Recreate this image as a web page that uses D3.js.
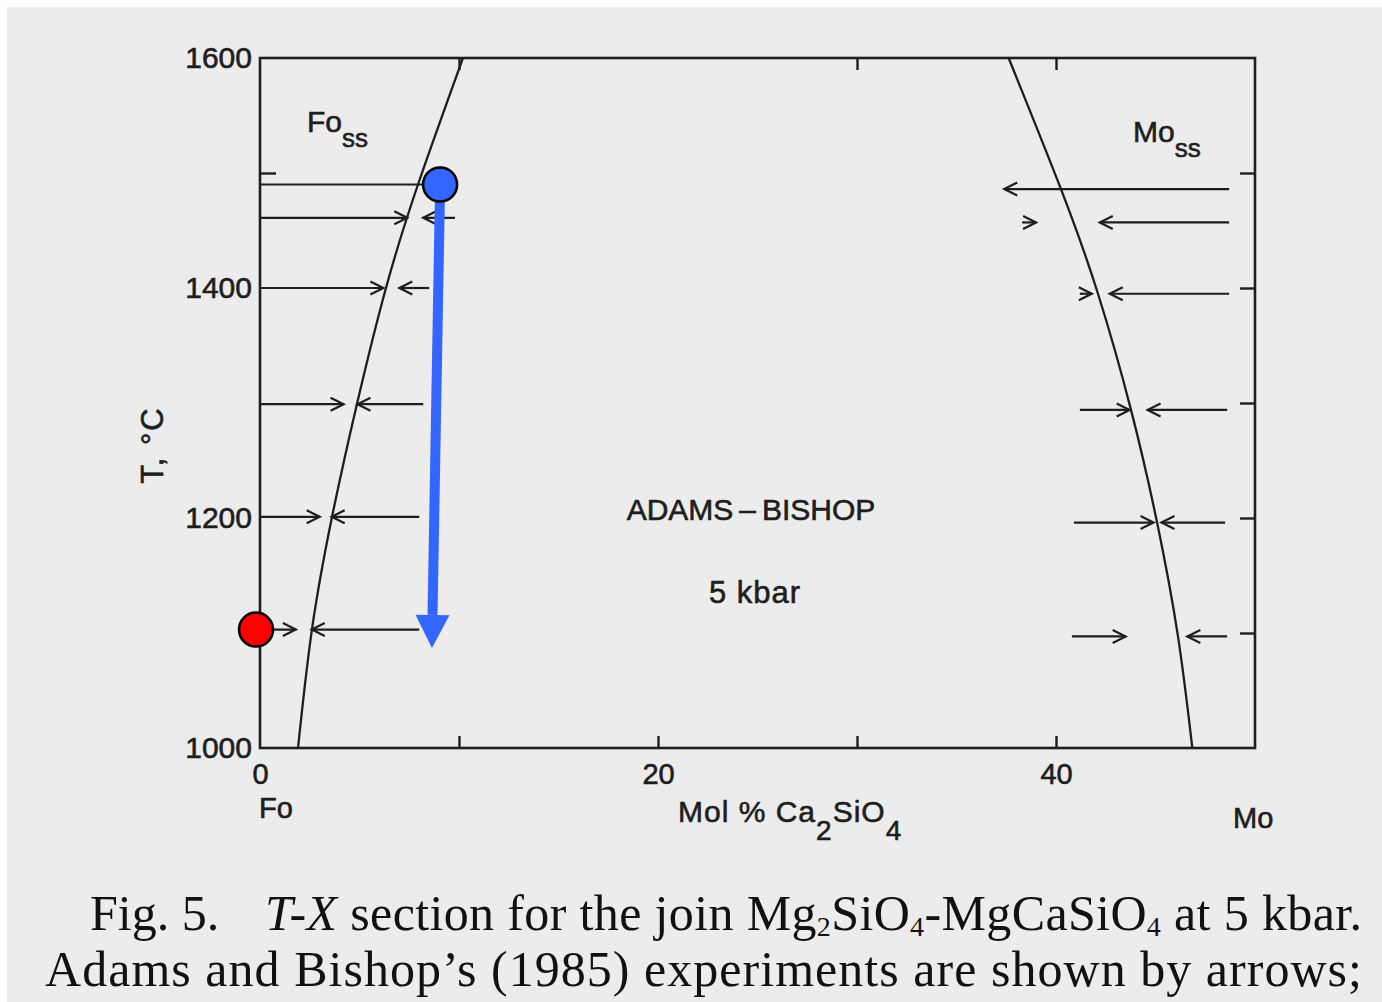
<!DOCTYPE html>
<html><head><meta charset="utf-8">
<script src="https://cdn.jsdelivr.net/npm/d3@7"></script>
<style>html,body{margin:0;padding:0;background:#fff;} svg{display:block}</style>
</head><body>
<svg id="c" width="1382" height="1002"></svg>
<script>
// ---- data ----
// solvus curves: [T (°C), mol % Ca2SiO4]
const foSolvus = [[1000,1.91],[1103,2.61],[1201,3.62],[1299,4.87],[1400,6.33],[1490,7.94],[1600,10.2]];
const moSolvus = [[1000,46.85],[1097,46.13],[1196,45.08],[1294,43.77],[1395,42.11],[1486,40.25],[1600,37.62]];
// Adams & Bishop experiments: [T, start composition, end composition]
const foArrows = [[1490,0,9.0],[1461,0,7.4],[1461,9.8,8.2],[1400,0,6.2],[1400,8.5,7.0],[1299,0,4.2],[1299,8.2,4.9],[1201,0,3.0],[1201,8.0,3.6],[1103,0,1.8],[1103,8.0,2.6]];
const moArrows = [[1486,48.7,37.4],[1457,38.3,39.0],[1457,48.7,42.2],[1395,41.2,41.8],[1395,48.7,42.7],[1294,41.2,43.7],[1294,48.6,44.6],[1196,40.9,44.9],[1196,48.5,45.3],[1097,40.8,43.5],[1097,48.6,46.6]];
const tLabels = [1000,1200,1400,1600];
const tInnerTicksLeft = [1500];
const tInnerTicksRight = [1100,1200,1300,1400,1500];
const xLabels = [0,20,40];
const xTicksBottom = [10,20,30,40];
const xTicksTop = [10,30,40];
// annotation overlay: [T, composition]
const blueStart = [1490,9.05];
const blueEnd = [1087,8.64];
const redPoint = [1103,-0.2];

// ---- drawing ----
const svg = d3.select("#c");
svg.append("rect").attr("x",7).attr("y",7).attr("width",1375).attr("height",995).attr("fill","#ececec");

const x = d3.scaleLinear().domain([0,50]).range([260,1255]);
const y = d3.scaleLinear().domain([1000,1600]).range([748,58]);
const ink = "#1e1e1e";
const sans = "'Liberation Sans', Arial, sans-serif";

const defs = svg.append("defs");
defs.append("marker").attr("id","chev").attr("markerUnits","userSpaceOnUse")
  .attr("viewBox","-15 -9 18 18").attr("refX",0).attr("refY",0)
  .attr("markerWidth",18).attr("markerHeight",18).attr("orient","auto")
  .append("path").attr("d","M-13,-6.5 L0,0 L-13,6.5").attr("fill","none")
  .attr("stroke",ink).attr("stroke-width",2.2);

// frame
svg.append("rect").attr("x",x(0)).attr("y",y(1600)).attr("width",x(50)-x(0)).attr("height",y(1000)-y(1600))
  .attr("fill","none").attr("stroke",ink).attr("stroke-width",2.6);

const heavy = sel => sel.attr("stroke",ink).attr("stroke-width",0.6).attr("fill",ink);

// axes labels
const axL = svg.append("g").attr("transform",`translate(${x(0)},0)`)
  .call(d3.axisLeft(y).tickValues(tLabels).tickSize(0).tickPadding(8).tickFormat(d3.format("d")));
const axB = svg.append("g").attr("transform",`translate(0,${y(1000)})`)
  .call(d3.axisBottom(x).tickValues(xLabels).tickSize(0).tickPadding(15).tickFormat(d3.format("d")));
[axL,axB].forEach(g=>{g.select(".domain").remove();
  g.selectAll("text").attr("font-family",sans).call(heavy);});
axL.selectAll("text").attr("font-size",30);
axB.selectAll("text").attr("font-size",29);

// inner ticks
const tk = (g)=>{g.select(".domain").remove(); g.selectAll("line").attr("stroke",ink).attr("stroke-width",2.4);};
svg.append("g").attr("transform",`translate(${x(0)},0)`).call(d3.axisRight(y).tickValues(tInnerTicksLeft).tickSize(16).tickFormat("")).call(tk);
svg.append("g").attr("transform",`translate(${x(50)},0)`).call(d3.axisLeft(y).tickValues(tInnerTicksRight).tickSize(15).tickFormat("")).call(tk);
svg.append("g").attr("transform",`translate(0,${y(1000)})`).call(d3.axisTop(x).tickValues(xTicksBottom).tickSize(12).tickFormat("")).call(tk);
svg.append("g").attr("transform",`translate(0,${y(1600)})`).call(d3.axisBottom(x).tickValues(xTicksTop).tickSize(12).tickFormat("")).call(tk);

// solvus curves
const line = d3.line().x(d=>x(d[1])).y(d=>y(d[0])).curve(d3.curveNatural);
[foSolvus,moSolvus].forEach(s=>svg.append("path").attr("d",line(s)).attr("fill","none").attr("stroke",ink).attr("stroke-width",2.3));

// experiment arrows
svg.append("g").selectAll("line").data(foArrows.concat(moArrows)).join("line")
  .attr("x1",d=>x(d[1])).attr("x2",d=>x(d[2])).attr("y1",d=>y(d[0])).attr("y2",d=>y(d[0]))
  .attr("stroke",ink).attr("stroke-width",2.2).attr("marker-end","url(#chev)");

// texts
const T = (txt,px,py,size,anchor)=>svg.append("text").attr("x",px).attr("y",py).attr("font-family",sans)
  .attr("font-size",size).attr("text-anchor",anchor||"start").call(heavy).text(txt);
const fo = T("Fo",307,132,30); fo.append("tspan").attr("dy",15).attr("font-size",26).text("ss");
const mo = T("Mo",1133,142,30); mo.append("tspan").attr("dy",15).attr("font-size",26).text("ss");
T("ADAMS\u2009\u2013\u2009BISHOP",751,520,30,"middle");
T("5 kbar",755,603,31,"middle").attr("letter-spacing",1);
T("Fo",259,818,29);
T("Mo",1233,828,29);
const ml = T("Mol % Ca",678,822,30).attr("letter-spacing",1);
ml.append("tspan").attr("dy",18).attr("font-size",28).text("2");
ml.append("tspan").attr("dy",-18).text("SiO");
ml.append("tspan").attr("dy",18).attr("font-size",28).text("4");
svg.append("text").attr("transform","translate(163,445) rotate(-90)").attr("text-anchor","middle")
  .attr("font-family",sans).attr("font-size",31).attr("letter-spacing",2).call(heavy).text("T, °C");

// overlay annotation
const bx1=x(blueStart[1]), by1=y(blueStart[0]), bx2=x(blueEnd[1]), by2=y(blueEnd[0]);
const head=33, hw=17;
const ang=Math.atan2(by2-by1,bx2-bx1);
const hbx=bx2-head*Math.cos(ang), hby=by2-head*Math.sin(ang);
svg.append("line").attr("x1",bx1).attr("y1",by1).attr("x2",hbx).attr("y2",hby)
  .attr("stroke","#3366ff").attr("stroke-width",10);
svg.append("path").attr("d",`M${bx2},${by2} L${hbx+hw*Math.sin(ang)},${hby-hw*Math.cos(ang)} L${hbx-hw*Math.sin(ang)},${hby+hw*Math.cos(ang)} Z`)
  .attr("fill","#3366ff");
svg.append("circle").attr("cx",bx1).attr("cy",by1).attr("r",17).attr("fill","#3366ff").attr("stroke","#000").attr("stroke-width",2.5);
svg.append("circle").attr("cx",x(redPoint[1])).attr("cy",y(redPoint[0])).attr("r",17).attr("fill","#ff0000").attr("stroke","#000").attr("stroke-width",2.5);

// caption
const serif = "'Liberation Serif', 'Times New Roman', serif";
svg.append("text").attr("x",90).attr("y",930).attr("font-family",serif).attr("font-size",50).attr("fill","#111").text("Fig. 5.");
const c1 = svg.append("text").attr("x",265).attr("y",930).attr("font-family",serif).attr("font-size",50).attr("fill","#111")
  .attr("textLength",1097).attr("lengthAdjust","spacing");
c1.append("tspan").attr("font-style","italic").text("T-X");
c1.append("tspan").text(" section for the join Mg");
c1.append("tspan").attr("font-size",28).attr("dy",6).text("2");
c1.append("tspan").attr("dy",-6).text("SiO");
c1.append("tspan").attr("font-size",28).attr("dy",6).text("4");
c1.append("tspan").attr("dy",-6).text("-MgCaSiO");
c1.append("tspan").attr("font-size",28).attr("dy",6).text("4");
c1.append("tspan").attr("dy",-6).text(" at 5 kbar.");
svg.append("text").attr("x",45).attr("y",986).attr("font-family",serif).attr("font-size",50).attr("fill","#111")
  .attr("textLength",1317).attr("lengthAdjust","spacing")
  .text("Adams and Bishop\u2019s (1985) experiments are shown by arrows;");
</script>
</body></html>
